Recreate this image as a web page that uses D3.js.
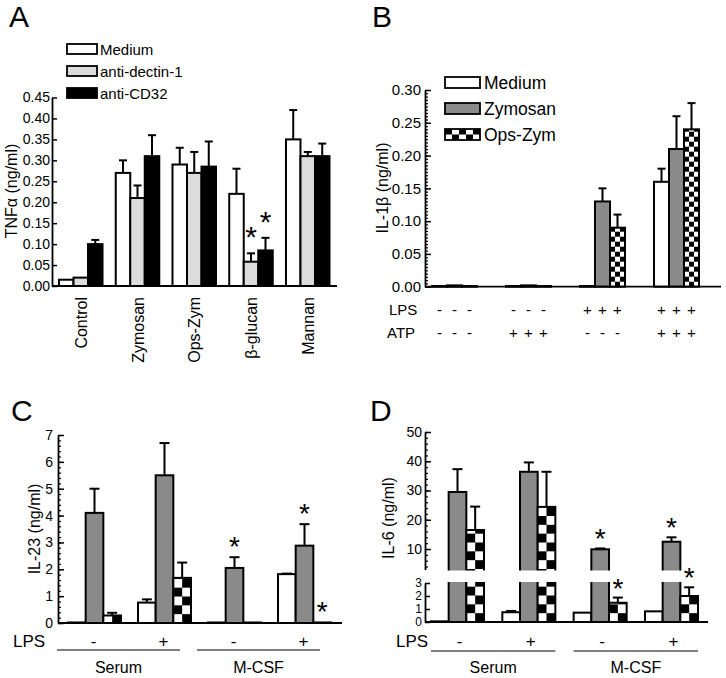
<!DOCTYPE html>
<html><head><meta charset="utf-8">
<script src="https://cdn.jsdelivr.net/npm/d3@7"></script>
<style>
body{margin:0;background:#fff}
svg text{font-family:"Liberation Sans",Arial,sans-serif;fill:#000}
</style></head><body>
<svg id="c" width="726" height="678"></svg>
<script>
// ---------- Panel A data ----------
const catsA = ["Control","Zymosan","Ops-Zym","β-glucan","Mannan"];
const seriesA = ["Medium","anti-dectin-1","anti-CD32"];
const mediumA = [0.015,0.27,0.29,0.22,0.35];
const mediumErrA = [0,0.03,0.04,0.06,0.07];
const dectinA = [0.02,0.21,0.27,0.058,0.31];
const dectinErrA = [0,0.03,0.05,0.02,0.01];
const cd32A = [0.10,0.31,0.285,0.085,0.31];
const cd32ErrA = [0.01,0.05,0.06,0.03,0.03];
const starsA = [[3,1],[3,2]];
const ticksA = [0,0.05,0.10,0.15,0.20,0.25,0.30,0.35,0.40,0.45];

// ---------- Panel B data ----------
const groupsB = ["1","2","3","4"];
const seriesB = ["Medium","Zymosan","Ops-Zym"];
const mediumB = [0.001,0.001,0.001,0.16];
const mediumErrB = [0,0,0,0.02];
const zymB = [0.002,0.002,0.13,0.21];
const zymErrB = [0,0,0.02,0.05];
const opsB = [0.001,0.001,0.09,0.24];
const opsErrB = [0,0,0.02,0.04];
const lpsB = ["-","-","+","+"];
const atpB = ["-","+","-","+"];
const ticksB = [0,0.05,0.10,0.15,0.20,0.25,0.30];

// ---------- Panel C data ----------
const groupsC = ["Serum -","Serum +","M-CSF -","M-CSF +"];
const mediumC = [0.02,0.76,0.02,1.82];
const mediumErrC = [0,0.12,0,0.02];
const zymC = [4.1,5.5,2.05,2.88];
const zymErrC = [0.9,1.2,0.4,0.8];
const opsC = [0.28,1.68,0.02,0.02];
const opsErrC = [0.1,0.57,0,0];
const starsC = [[2,1],[3,1],[3,2]];
const lpsC = ["-","+","-","+"];
const mediaC = ["Serum","M-CSF"];
const ticksC = [0,1,2,3,4,5,6,7];

// ---------- Panel D data ----------
const groupsD = ["Serum -","Serum +","M-CSF -","M-CSF +"];
const mediumD = [0.05,0.75,0.72,0.82];
const mediumErrD = [0,0.1,0,0];
const zymD = [29.5,36.4,9.9,12.5];
const zymErrD = [7.8,3.2,0.3,1.5];
const opsD = [16.5,24.4,1.48,2.0];
const opsErrD = [8.0,12.0,0.4,0.67];
const starsD = [[2,1],[2,2],[3,1],[3,2]];
const lpsD = ["-","+","-","+"];
const mediaD = ["Serum","M-CSF"];
const ticksDUpper = [10,20,30,40,50];
const ticksDLower = [0,1,2,3];

const svg = d3.select("#c");
const defs = svg.append("defs");
let pid = 0;
function checker(x, y, cw, ch){
  const id = "chk" + (pid++);
  const p = defs.append("pattern").attr("id",id).attr("patternUnits","userSpaceOnUse")
    .attr("x",x).attr("y",y).attr("width",2*cw).attr("height",2*ch);
  p.append("rect").attr("width",2*cw).attr("height",2*ch).attr("fill","#fff");
  p.append("rect").attr("width",cw).attr("height",ch).attr("fill","#000");
  p.append("rect").attr("x",cw).attr("y",ch).attr("width",cw).attr("height",ch).attr("fill","#000");
  return `url(#${id})`;
}
const FONT = '"Liberation Sans",Arial,sans-serif';
const OS = '"Open Sans",sans-serif';

function drawBars(o){
  const g = svg.append("g");
  const x0 = d3.scaleBand().domain(o.groups).range(o.xr).paddingInner(o.pad).paddingOuter(0);
  const x1 = d3.scaleBand().domain(o.series).range([0,x0.bandwidth()]);
  const bw = x1.bandwidth();
  o.series.forEach((s,si)=>{
    o.groups.forEach((gn,gi)=>{
      const v = o.values[si][gi], e = o.errs[si][gi];
      const bx = x0(gn)+x1(s), cx = bx+bw/2;
      const top = o.y(v);
      if(e>0){
        const et = o.y(v+e);
        g.append("line").attr("x1",cx).attr("x2",cx).attr("y1",top).attr("y2",et)
          .attr("stroke","#000").attr("stroke-width",o.sw);
        g.append("line").attr("x1",cx-o.cap/2).attr("x2",cx+o.cap/2).attr("y1",et).attr("y2",et)
          .attr("stroke","#000").attr("stroke-width",o.sw);
      }
      let fill = o.fills[si];
      if(fill==="checker") fill = checker(bx, o.base, o.cell||bw/2, o.cell||bw/2);
      g.append("rect").attr("x",bx).attr("y",top).attr("width",bw).attr("height",Math.max(0,o.base-top))
        .attr("fill",fill).attr("stroke","#000").attr("stroke-width",o.sw);
    });
  });
  if(o.gap){
    g.append("rect").attr("x",o.gap[0]).attr("y",o.gap[1]).attr("width",o.gap[2]).attr("height",o.gap[3]).attr("fill","#fff");
  }
  (o.stars||[]).forEach(([gi,si])=>{
    const v = o.values[si][gi], e = o.errs[si][gi];
    const cx = x0(o.groups[gi])+x1(o.series[si])+bw/2;
    g.append("text").attr("x",cx).attr("y",o.y(v+e)+o.starOff).attr("text-anchor","middle")
      .attr("font-size",o.starSize).attr("font-family",FONT).text("*");
  });
  return {g,x0,x1,bw};
}

function yAxis(scale, x, major, minor, fmt, fs, majLen, minLen, gap){
  const ax = svg.append("g").attr("transform",`translate(${x},0)`);
  if(minor){
    ax.append("g").call(d3.axisLeft(scale).tickValues(minor).tickSize(-minLen).tickSizeOuter(0).tickFormat(""))
      .call(s=>s.select(".domain").remove())
      .call(s=>s.selectAll("line").attr("stroke-width",1.2));
  }
  ax.append("g").call(d3.axisLeft(scale).tickValues(major).tickSize(-majLen).tickSizeOuter(0).tickFormat(fmt))
    .attr("font-size",fs).attr("font-family",FONT)
    .call(s=>s.select(".domain").attr("stroke-width",1.8))
    .call(s=>s.selectAll("line").attr("stroke-width",1.5))
    .call(s=>s.selectAll("text").attr("fill","#000").attr("x",-gap));
  return ax;
}
function hline(x1,x2,y,w){
  svg.append("line").attr("x1",x1).attr("x2",x2).attr("y1",y).attr("y2",y).attr("stroke","#000").attr("stroke-width",w||1.8);
}
function letter(t,x,y){
  svg.append("text").attr("x",x).attr("y",y).attr("font-family",OS).attr("font-size",30).text(t);
}
function ylabel(t,x,y,fs){
  svg.append("text").attr("transform",`translate(${x},${y}) rotate(-90)`).attr("text-anchor","middle")
    .attr("font-size",fs).attr("font-family",FONT).text(t);
}

// ================= Panel A =================
const yA = d3.scaleLinear().domain([0,0.45]).range([286,97.5]);
const fillsA = ["#fff","#dcdcdc","#000"];
const A = drawBars({groups:catsA, series:seriesA, values:[mediumA,dectinA,cd32A], errs:[mediumErrA,dectinErrA,cd32ErrA],
  fills:fillsA, xr:[59,329.5], pad:0.233, y:yA, base:yA(0), sw:2, cap:8, stars:starsA, starOff:-6, starSize:30});
hline(52,337,yA(0));
yAxis(yA,52,ticksA,null,d3.format(".2f"),14,5,3,2);
letter("A",9,27);
ylabel("TNFα (ng/ml)",17,191,16);
catsA.forEach(c=>{
  svg.append("text").attr("transform",`translate(${A.x0(c)+A.x0.bandwidth()/2+6},297) rotate(-90)`)
    .attr("text-anchor","end").attr("font-family",OS).attr("font-size",16).text(c);
});
seriesA.forEach((s,i)=>{
  const yy = 44+i*22;
  svg.append("rect").attr("x",67).attr("y",yy).attr("width",30).attr("height",10)
    .attr("fill",fillsA[i]).attr("stroke","#000").attr("stroke-width",1.8);
  svg.append("text").attr("x",100).attr("y",yy+10.5).attr("font-size",15).attr("font-family",FONT).text(s);
});

// ================= Panel B =================
const yB = d3.scaleLinear().domain([0,0.30]).range([286.7,90]);
const fillsB = ["#fff","#8a8a8a","checker"];
const B = drawBars({groups:groupsB, series:seriesB, values:[mediumB,zymB,opsB], errs:[mediumErrB,zymErrB,opsErrB],
  fills:fillsB, xr:[432,699], pad:0.392, y:yB, base:yB(0), sw:2, cap:8, cell:5});
hline(425,721,yB(0));
yAxis(yB,425,ticksB,d3.range(0,0.301,0.005),d3.format(".2f"),15,6,3,4);
letter("B",372,27);
ylabel("IL-1β (ng/ml)",388,188,16);
seriesB.forEach((s,i)=>{
  const yy = 77+i*26;
  let f = fillsB[i];
  if(f==="checker") f = checker(445,yy,7,5.5);
  svg.append("rect").attr("x",445).attr("y",yy).attr("width",35).attr("height",11)
    .attr("fill",f).attr("stroke","#000").attr("stroke-width",1.8);
  svg.append("text").attr("x",484).attr("y",yy+12).attr("font-size",17.5).attr("font-family",FONT).text(s);
});
svg.append("text").attr("x",389).attr("y",315).attr("font-size",15).attr("font-family",FONT).text("LPS");
svg.append("text").attr("x",387).attr("y",338).attr("font-size",15).attr("font-family",FONT).text("ATP");
groupsB.forEach((gn,gi)=>{
  seriesB.forEach(s=>{
    const cx = B.x0(gn)+B.x1(s)+B.bw/2;
    svg.append("text").attr("x",cx).attr("y",315).attr("text-anchor","middle").attr("font-size",15).attr("font-family",FONT).text(lpsB[gi]);
    svg.append("text").attr("x",cx).attr("y",338).attr("text-anchor","middle").attr("font-size",15).attr("font-family",FONT).text(atpB[gi]);
  });
});

// ================= Panel C =================
const yC = d3.scaleLinear().domain([0,7]).range([623,435]);
const fillsCD = ["#fff","#8a8a8a","checker"];
const C = drawBars({groups:groupsC, series:seriesB, values:[mediumC,zymC,opsC], errs:[mediumErrC,zymErrC,opsErrC],
  fills:fillsCD, xr:[68,331], pad:0.243, y:yC, base:yC(0), sw:2, cap:10, stars:starsC, starOff:-1, starSize:28});
hline(58,342,yC(0));
yAxis(yC,58,ticksC,d3.range(0,7.01,0.2),d3.format("d"),14,6,3,5);
letter("C",11,421);
ylabel("IL-23 (ng/ml)",40,529,16);
svg.append("text").attr("x",13).attr("y",647).attr("font-size",17).attr("font-family",OS).text("LPS");
groupsC.forEach((gn,gi)=>{
  svg.append("text").attr("x",C.x0(gn)+C.x0.bandwidth()/2-1).attr("y",647).attr("text-anchor","middle")
    .attr("font-size",17).attr("font-family",OS).text(lpsC[gi]);
});
mediaC.forEach((m,i)=>{
  const xa = C.x0(groupsC[2*i])-11, xb = C.x0(groupsC[2*i+1])+C.x0.bandwidth()-11;
  hline(xa,xb,650,1.2);
  svg.append("text").attr("x",(xa+xb)/2).attr("y",673).attr("text-anchor","middle")
    .attr("font-size",16).attr("font-family",OS).text(m);
});

// ================= Panel D (broken axis) =================
const yDlo = d3.scaleLinear().domain([0,3]).range([622,583]);
const yDup = d3.scaleLinear().domain([3,50]).range([569.5,432]);
const yD = v => v<=3 ? yDlo(v) : yDup(v);
const D = drawBars({groups:groupsD, series:seriesB, values:[mediumD,zymD,opsD], errs:[mediumErrD,zymErrD,opsErrD],
  fills:fillsCD, xr:[431,698], pad:0.257, y:yD, base:yDlo(0), sw:2, cap:10, stars:starsD, starOff:0, starSize:28,
  gap:[426,570.5,290,11.5]});
hline(425,708,yDlo(0));
yAxis(yDup,425,ticksDUpper,d3.range(4,50.1,2),d3.format("d"),14,6,3,3);
yAxis(yDlo,425,ticksDLower,null,d3.format("d"),12,5,3,3);
letter("D",370,421);
ylabel("IL-6 (ng/ml)",394,518,16);
svg.append("text").attr("x",396).attr("y",647).attr("font-size",17).attr("font-family",OS).text("LPS");
groupsD.forEach((gn,gi)=>{
  svg.append("text").attr("x",D.x0(gn)+D.x0.bandwidth()/2+2).attr("y",647).attr("text-anchor","middle")
    .attr("font-size",17).attr("font-family",OS).text(lpsD[gi]);
});
mediaD.forEach((m,i)=>{
  const xa = D.x0(groupsD[2*i]), xb = D.x0(groupsD[2*i+1])+D.x0.bandwidth();
  hline(xa,xb,651,1.2);
  svg.append("text").attr("x",(xa+xb)/2).attr("y",673).attr("text-anchor","middle")
    .attr("font-size",16).attr("font-family",OS).text(m);
});
</script>
</body></html>
